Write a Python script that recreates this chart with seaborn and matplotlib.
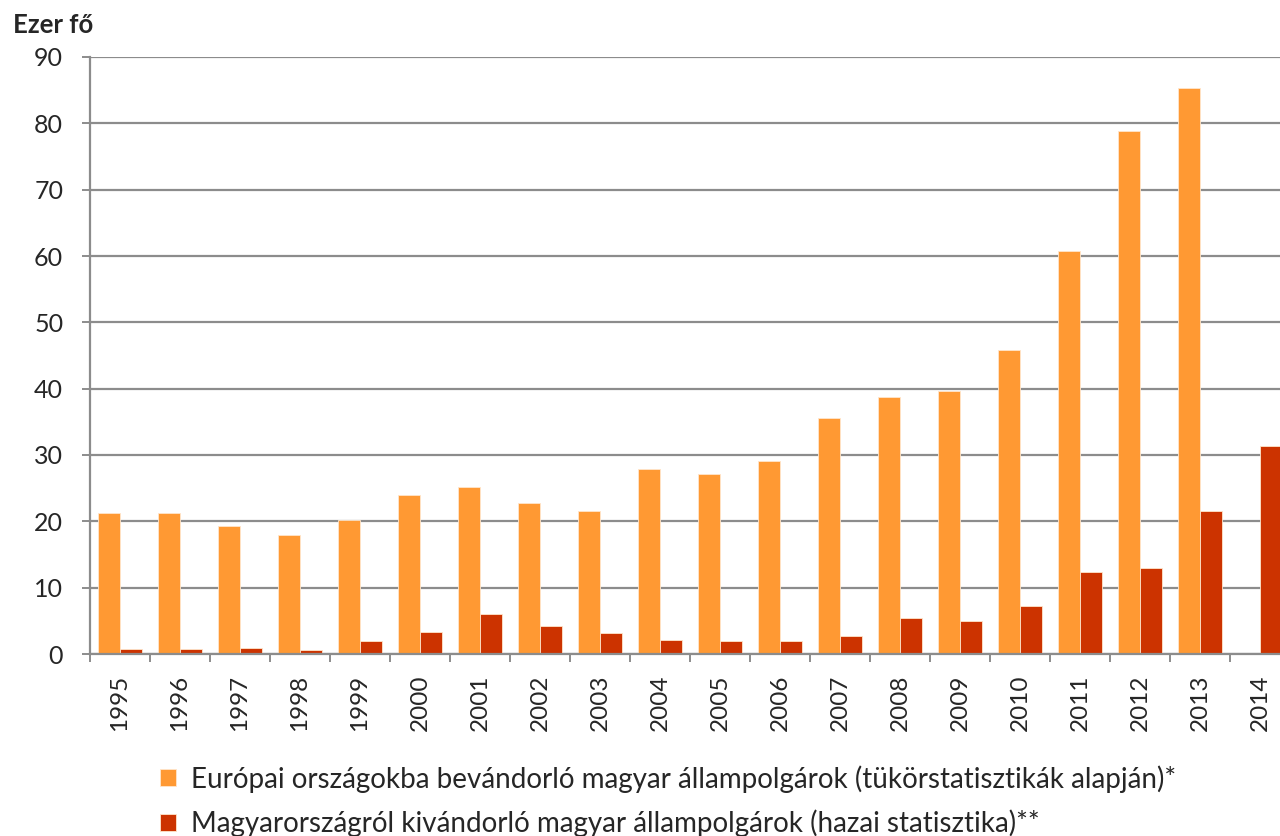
import numpy as np
import pandas as pd
import seaborn as sns
import matplotlib
matplotlib.use("Agg")
import matplotlib.pyplot as plt
from matplotlib.ticker import FixedLocator

years = [str(y) for y in range(1995, 2015)]
europe_immigrants = [21.3, 21.3, 19.3, 17.9, 20.2, 24.0, 25.2, 22.8, 21.6, 27.9,
                     27.1, 29.1, 35.6, 38.7, 39.6, 45.8, 60.7, 78.8, 85.4, np.nan]
hu_emigrants = [0.75, 0.75, 0.85, 0.65, 2.0, 3.3, 6.0, 4.2, 3.1, 2.1,
                2.0, 1.9, 2.7, 5.4, 4.9, 7.2, 12.4, 13.0, 21.6, 31.4]
series_names = ["Európai országokba bevándorló magyar állampolgárok (tükörstatisztikák alapján)*",
                "Magyarországról kivándorló magyar állampolgárok (hazai statisztika)**"]
y_label = "Ezer fő"

df = pd.DataFrame({
    "year": years * 2,
    "value": europe_immigrants + hu_emigrants,
    "series": [series_names[0]] * len(years) + [series_names[1]] * len(years),
})

sns.set_theme(style="white")
plt.rcParams['font.family'] = ['Lato', 'DejaVu Sans']

fig = plt.figure(figsize=(12.8, 8.36), dpi=100)
W, H = 1280, 836
ax = fig.add_axes([90 / W, (H - 654) / H, 1200 / W, (654 - 57) / H])

sns.barplot(data=df, x="year", y="value", hue="series", order=years,
            hue_order=series_names, palette=["#FF9933", "#CC3300"],
            width=0.72, gap=0, edgecolor="#FFE6CC", linewidth=0.6,
            ax=ax, legend=True, saturation=1)

grid_c = "#8C8C8C"
ax.set_ylim(0, 90)
ax.set_xlim(-0.5, len(years) - 0.5)
ax.set_yticks(range(0, 91, 10))
ax.yaxis.grid(True, color=grid_c, linewidth=1.6)
ax.set_axisbelow(True)
for s in ["top", "right"]:
    ax.spines[s].set_visible(False)
for s in ["left", "bottom"]:
    ax.spines[s].set_color(grid_c)
    ax.spines[s].set_linewidth(1.6)
ax.tick_params(axis="y", which="major", length=5.8, width=1.4, color=grid_c,
               direction="out", left=True, labelsize=18, pad=13.5)
ax.set_xticks(range(len(years)))
ax.set_xticklabels(years, rotation=90, fontsize=17.5)
ax.tick_params(axis="x", which="major", length=0, pad=15, bottom=False)
ax.xaxis.set_minor_locator(FixedLocator(np.arange(-0.5, len(years), 1)))
ax.tick_params(axis="x", which="minor", length=5.8, width=1.4, color=grid_c,
               direction="out", bottom=True)
ax.set_xlabel("")
ax.set_ylabel("")
for lab in ax.get_yticklabels():
    lab.set_fontsize(18)

handles, labels = ax.get_legend_handles_labels()
ax.get_legend().remove()
fig.legend(handles, labels, loc="upper left",
           bbox_to_anchor=(160 / W, 1 - 765 / H), frameon=False,
           fontsize=20, handlelength=0.58, handleheight=0.58,
           handletextpad=0.55, labelspacing=0.62, borderaxespad=0,
           borderpad=0)

fig.text(13 / W, 1 - 25 / H, y_label, fontsize=18.5, fontweight="bold",
         va="center", ha="left")

fig.savefig("out.png", dpi=100)
